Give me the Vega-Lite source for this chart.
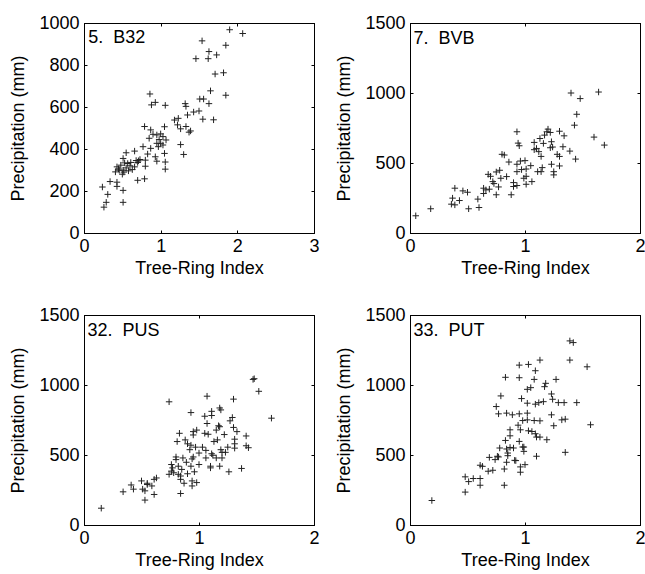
{
"$schema": "https://vega.github.io/schema/vega-lite/v6.json",
"padding": {"left": 9, "top": 13, "right": 2, "bottom": 0},
"background": "white",
"config": {
 "view": {"stroke": "#000", "strokeWidth": 1},
 "axis": {"labelFont": "Liberation Sans", "titleFont": "Liberation Sans", "labelFontSize": 18, "titleFontSize": 18, "titleFontWeight": "normal", "labelColor": "#000", "titleColor": "#000", "domainColor": "#000", "tickColor": "#000", "grid": false, "tickSize": -3, "labelFlush": false, "labelOverlap": false, "labelBound": false, "format": "d"},
 "axisX": {"labelPadding": 7, "titlePadding": 4},
 "axisY": {"labelPadding": 8, "titlePadding": 11}
},
"datasets": {
 "b32": [
  {"x":0.26,"y":123},{"x":0.29,"y":146},{"x":0.51,"y":146},{"x":0.31,"y":184},{"x":0.24,"y":219},{"x":0.43,"y":222},{"x":0.51,"y":203},{"x":0.34,"y":245},{"x":0.43,"y":242},{"x":0.70,"y":251},{"x":0.79,"y":258},{"x":0.41,"y":291},{"x":0.50,"y":280},{"x":0.46,"y":299},{"x":0.51,"y":299},{"x":0.58,"y":296},{"x":0.63,"y":302},{"x":0.43,"y":315},{"x":0.48,"y":323},{"x":0.53,"y":334},{"x":0.57,"y":331},{"x":0.51,"y":355},{"x":0.61,"y":336},{"x":0.66,"y":315},{"x":0.70,"y":336},{"x":0.71,"y":344},{"x":0.73,"y":350},{"x":0.80,"y":347},{"x":0.80,"y":318},{"x":0.55,"y":382},{"x":0.66,"y":390},{"x":0.77,"y":411},{"x":0.83,"y":376},{"x":0.87,"y":403},{"x":0.93,"y":363},{"x":0.95,"y":342},{"x":0.97,"y":411},{"x":0.95,"y":427},{"x":1.00,"y":427},{"x":1.03,"y":419},{"x":1.05,"y":379},{"x":1.06,"y":338},{"x":1.06,"y":304},{"x":0.85,"y":451},{"x":0.95,"y":467},{"x":1.00,"y":472},{"x":1.03,"y":459},{"x":1.07,"y":443},{"x":0.79,"y":507},{"x":0.87,"y":491},{"x":1.05,"y":506},{"x":1.26,"y":421},{"x":1.30,"y":374},{"x":0.86,"y":662},{"x":0.88,"y":610},{"x":0.93,"y":622},{"x":1.06,"y":608},{"x":1.18,"y":538},{"x":1.23,"y":546},{"x":1.22,"y":515},{"x":1.26,"y":496},{"x":1.33,"y":507},{"x":1.37,"y":480},{"x":1.39,"y":486},{"x":1.32,"y":616},{"x":1.33,"y":603},{"x":1.35,"y":562},{"x":1.43,"y":576},{"x":1.50,"y":581},{"x":1.55,"y":542},{"x":1.69,"y":539},{"x":1.51,"y":638},{"x":1.56,"y":638},{"x":1.63,"y":616},{"x":1.65,"y":677},{"x":1.85,"y":656},{"x":1.71,"y":757},{"x":1.82,"y":763},{"x":1.46,"y":830},{"x":1.62,"y":830},{"x":1.63,"y":864},{"x":1.73,"y":848},{"x":1.54,"y":915},{"x":1.85,"y":894},{"x":1.90,"y":968},{"x":2.07,"y":950},{"x":0.45,"y":305},{"x":0.55,"y":310},{"x":0.60,"y":320},{"x":0.68,"y":345},{"x":0.90,"y":470},{"x":0.98,"y":445},{"x":0.52,"y":290}
 ],
 "bvb": [
  {"x":0.05,"y":123},{"x":0.18,"y":173},{"x":0.39,"y":320},{"x":0.37,"y":249},{"x":0.36,"y":206},{"x":0.39,"y":201},{"x":0.43,"y":232},{"x":0.46,"y":301},{"x":0.50,"y":291},{"x":0.51,"y":173},{"x":0.59,"y":242},{"x":0.60,"y":182},{"x":0.64,"y":320},{"x":0.66,"y":308},{"x":0.69,"y":313},{"x":0.64,"y":282},{"x":0.68,"y":419},{"x":0.70,"y":405},{"x":0.72,"y":367},{"x":0.73,"y":353},{"x":0.75,"y":436},{"x":0.78,"y":448},{"x":0.77,"y":329},{"x":0.75,"y":273},{"x":0.80,"y":562},{"x":0.82,"y":557},{"x":0.79,"y":391},{"x":0.84,"y":403},{"x":0.86,"y":507},{"x":0.88,"y":273},{"x":0.90,"y":360},{"x":0.90,"y":332},{"x":0.93,"y":339},{"x":0.93,"y":723},{"x":0.94,"y":642},{"x":0.95,"y":623},{"x":0.93,"y":491},{"x":0.93,"y":438},{"x":0.96,"y":514},{"x":0.97,"y":453},{"x":0.99,"y":391},{"x":1.00,"y":517},{"x":1.01,"y":457},{"x":1.01,"y":405},{"x":1.01,"y":348},{"x":1.05,"y":481},{"x":1.06,"y":367},{"x":1.08,"y":647},{"x":1.10,"y":604},{"x":1.08,"y":595},{"x":1.12,"y":581},{"x":1.13,"y":675},{"x":1.14,"y":547},{"x":1.16,"y":640},{"x":1.15,"y":467},{"x":1.11,"y":438},{"x":1.14,"y":438},{"x":1.17,"y":699},{"x":1.19,"y":723},{"x":1.20,"y":742},{"x":1.22,"y":718},{"x":1.23,"y":652},{"x":1.24,"y":614},{"x":1.22,"y":609},{"x":1.23,"y":491},{"x":1.25,"y":438},{"x":1.25,"y":415},{"x":1.30,"y":727},{"x":1.28,"y":562},{"x":1.30,"y":547},{"x":1.30,"y":479},{"x":1.33,"y":616},{"x":1.34,"y":694},{"x":1.39,"y":585},{"x":1.44,"y":528},{"x":1.43,"y":770},{"x":1.45,"y":848},{"x":1.40,"y":1000},{"x":1.48,"y":960},{"x":1.64,"y":1007},{"x":1.60,"y":685},{"x":1.69,"y":628}
 ],
 "pus": [
  {"x":0.15,"y":120},{"x":0.34,"y":237},{"x":0.41,"y":286},{"x":0.43,"y":256},{"x":0.50,"y":315},{"x":0.51,"y":256},{"x":0.53,"y":178},{"x":0.53,"y":244},{"x":0.55,"y":298},{"x":0.55,"y":289},{"x":0.59,"y":279},{"x":0.61,"y":326},{"x":0.63,"y":336},{"x":0.61,"y":218},{"x":0.74,"y":880},{"x":0.74,"y":362},{"x":0.76,"y":385},{"x":0.76,"y":432},{"x":0.77,"y":408},{"x":0.78,"y":373},{"x":0.80,"y":486},{"x":0.80,"y":467},{"x":0.81,"y":596},{"x":0.83,"y":655},{"x":0.82,"y":420},{"x":0.82,"y":362},{"x":0.84,"y":350},{"x":0.84,"y":326},{"x":0.84,"y":225},{"x":0.85,"y":397},{"x":0.86,"y":479},{"x":0.87,"y":298},{"x":0.88,"y":608},{"x":0.89,"y":448},{"x":0.90,"y":580},{"x":0.90,"y":366},{"x":0.92,"y":538},{"x":0.93,"y":803},{"x":0.93,"y":570},{"x":0.93,"y":420},{"x":0.94,"y":472},{"x":0.95,"y":667},{"x":0.95,"y":643},{"x":0.95,"y":486},{"x":0.94,"y":315},{"x":0.94,"y":279},{"x":0.96,"y":380},{"x":0.97,"y":556},{"x":0.98,"y":678},{"x":0.98,"y":303},{"x":1.00,"y":514},{"x":1.00,"y":432},{"x":1.03,"y":556},{"x":1.05,"y":655},{"x":1.05,"y":777},{"x":1.07,"y":920},{"x":1.07,"y":725},{"x":1.08,"y":648},{"x":1.06,"y":533},{"x":1.06,"y":479},{"x":1.10,"y":420},{"x":1.10,"y":408},{"x":1.11,"y":812},{"x":1.11,"y":782},{"x":1.11,"y":509},{"x":1.12,"y":498},{"x":1.13,"y":596},{"x":1.15,"y":678},{"x":1.15,"y":479},{"x":1.16,"y":608},{"x":1.17,"y":709},{"x":1.18,"y":836},{"x":1.18,"y":702},{"x":1.19,"y":822},{"x":1.20,"y":519},{"x":1.20,"y":479},{"x":1.18,"y":420},{"x":1.19,"y":538},{"x":1.22,"y":646},{"x":1.23,"y":519},{"x":1.25,"y":556},{"x":1.26,"y":380},{"x":1.27,"y":744},{"x":1.29,"y":768},{"x":1.30,"y":899},{"x":1.30,"y":697},{"x":1.31,"y":613},{"x":1.31,"y":580},{"x":1.31,"y":549},{"x":1.33,"y":667},{"x":1.37,"y":404},{"x":1.41,"y":636},{"x":1.41,"y":566},{"x":1.43,"y":552},{"x":1.47,"y":1040},{"x":1.48,"y":1045},{"x":1.52,"y":955},{"x":1.63,"y":763}
 ],
 "put": [
  {"x":0.19,"y":175},{"x":0.48,"y":235},{"x":0.48,"y":344},{"x":0.51,"y":310},{"x":0.55,"y":332},{"x":0.61,"y":332},{"x":0.61,"y":284},{"x":0.61,"y":427},{"x":0.63,"y":419},{"x":0.68,"y":384},{"x":0.72,"y":391},{"x":0.69,"y":483},{"x":0.74,"y":467},{"x":0.76,"y":491},{"x":0.77,"y":486},{"x":0.78,"y":550},{"x":0.75,"y":846},{"x":0.77,"y":794},{"x":0.79,"y":922},{"x":0.82,"y":284},{"x":0.82,"y":400},{"x":0.83,"y":1055},{"x":0.84,"y":799},{"x":0.83,"y":604},{"x":0.84,"y":543},{"x":0.85,"y":514},{"x":0.85,"y":495},{"x":0.84,"y":448},{"x":0.87,"y":680},{"x":0.87,"y":637},{"x":0.87,"y":554},{"x":0.89,"y":787},{"x":0.90,"y":550},{"x":0.91,"y":462},{"x":0.92,"y":460},{"x":0.94,"y":713},{"x":0.95,"y":794},{"x":0.95,"y":597},{"x":0.95,"y":1052},{"x":0.95,"y":1142},{"x":0.96,"y":680},{"x":0.97,"y":903},{"x":0.98,"y":557},{"x":0.98,"y":746},{"x":0.99,"y":557},{"x":0.99,"y":526},{"x":1.00,"y":431},{"x":0.96,"y":377},{"x":0.96,"y":415},{"x":1.02,"y":799},{"x":1.02,"y":751},{"x":1.03,"y":1147},{"x":1.02,"y":870},{"x":1.02,"y":969},{"x":1.03,"y":673},{"x":1.05,"y":981},{"x":1.08,"y":1040},{"x":1.09,"y":1102},{"x":1.09,"y":863},{"x":1.09,"y":652},{"x":1.12,"y":874},{"x":1.10,"y":491},{"x":1.13,"y":744},{"x":1.13,"y":1178},{"x":1.08,"y":746},{"x":1.06,"y":668},{"x":1.10,"y":628},{"x":1.13,"y":628},{"x":1.16,"y":881},{"x":1.17,"y":988},{"x":1.18,"y":1012},{"x":1.19,"y":609},{"x":1.23,"y":936},{"x":1.24,"y":898},{"x":1.25,"y":709},{"x":1.27,"y":1040},{"x":1.29,"y":874},{"x":1.32,"y":751},{"x":1.34,"y":874},{"x":1.35,"y":519},{"x":1.35,"y":756},{"x":1.39,"y":1315},{"x":1.42,"y":1303},{"x":1.39,"y":1178},{"x":1.45,"y":874},{"x":1.54,"y":1130},{"x":1.57,"y":716},{"x":1.23,"y":787}
 ]
},
"columns": 2,
"spacing": {"row": 82, "column": 96},
"bounds": "flush",
"concat": [
 {
  "width": 230, "height": 210,
  "data": {"name": "b32"},
  "layer": [
   {"mark": {"type": "point", "shape": "M-1,0H1M0,-1V1", "filled": false, "stroke": "#222", "strokeWidth": 1, "size": 42, "opacity": 1},
    "encoding": {
     "x": {"field": "x", "type": "quantitative", "scale": {"domain": [0, 3], "nice": false}, "axis": {"orient": "bottom", "values": [0, 1, 2, 3], "title": "Tree-Ring Index"}},
     "y": {"field": "y", "type": "quantitative", "scale": {"domain": [0, 1000], "nice": false}, "axis": {"orient": "left", "values": [0, 200, 400, 600, 800, 1000], "title": "Precipitation (mm)"}}}},
   {"mark": {"type": "point", "opacity": 0},
    "encoding": {
     "x": {"field": "x", "type": "quantitative", "axis": {"orient": "top", "values": [0, 1, 2, 3], "labels": false, "title": null}},
     "y": {"field": "y", "type": "quantitative", "axis": {"orient": "right", "values": [0, 200, 400, 600, 800, 1000], "labels": false, "title": null}}}},
   {"data": {"values": [{"name": "5.\u00a0\u00a0B32"}]},
    "mark": {"type": "text", "align": "left", "baseline": "alphabetic", "font": "Liberation Sans", "fontSize": 18, "color": "#000"},
    "encoding": {"x": {"datum": 0.055, "type": "quantitative", "axis": null}, "y": {"datum": 903, "type": "quantitative", "axis": null}, "text": {"field": "name"}}}
  ],
  "resolve": {"axis": {"x": "independent", "y": "independent"}}
 },
 {
  "width": 230, "height": 210,
  "data": {"name": "bvb"},
  "layer": [
   {"mark": {"type": "point", "shape": "M-1,0H1M0,-1V1", "filled": false, "stroke": "#222", "strokeWidth": 1, "size": 42, "opacity": 1},
    "encoding": {
     "x": {"field": "x", "type": "quantitative", "scale": {"domain": [0, 2], "nice": false}, "axis": {"orient": "bottom", "values": [0, 1, 2], "title": "Tree-Ring Index"}},
     "y": {"field": "y", "type": "quantitative", "scale": {"domain": [0, 1500], "nice": false}, "axis": {"orient": "left", "values": [0, 500, 1000, 1500], "title": "Precipitation (mm)"}}}},
   {"mark": {"type": "point", "opacity": 0},
    "encoding": {
     "x": {"field": "x", "type": "quantitative", "axis": {"orient": "top", "values": [0, 1, 2], "labels": false, "title": null}},
     "y": {"field": "y", "type": "quantitative", "axis": {"orient": "right", "values": [0, 500, 1000, 1500], "labels": false, "title": null}}}},
   {"data": {"values": [{"name": "7.\u00a0\u00a0BVB"}]},
    "mark": {"type": "text", "align": "left", "baseline": "alphabetic", "font": "Liberation Sans", "fontSize": 18, "color": "#000"},
    "encoding": {"x": {"datum": 0.03, "type": "quantitative", "axis": null}, "y": {"datum": 1352, "type": "quantitative", "axis": null}, "text": {"field": "name"}}}
  ],
  "resolve": {"axis": {"x": "independent", "y": "independent"}}
 },
 {
  "width": 230, "height": 210,
  "data": {"name": "pus"},
  "layer": [
   {"mark": {"type": "point", "shape": "M-1,0H1M0,-1V1", "filled": false, "stroke": "#222", "strokeWidth": 1, "size": 42, "opacity": 1},
    "encoding": {
     "x": {"field": "x", "type": "quantitative", "scale": {"domain": [0, 2], "nice": false}, "axis": {"orient": "bottom", "values": [0, 1, 2], "title": "Tree-Ring Index"}},
     "y": {"field": "y", "type": "quantitative", "scale": {"domain": [0, 1500], "nice": false}, "axis": {"orient": "left", "values": [0, 500, 1000, 1500], "title": "Precipitation (mm)"}}}},
   {"mark": {"type": "point", "opacity": 0},
    "encoding": {
     "x": {"field": "x", "type": "quantitative", "axis": {"orient": "top", "values": [0, 1, 2], "labels": false, "title": null}},
     "y": {"field": "y", "type": "quantitative", "axis": {"orient": "right", "values": [0, 500, 1000, 1500], "labels": false, "title": null}}}},
   {"data": {"values": [{"name": "32.\u00a0\u00a0PUS"}]},
    "mark": {"type": "text", "align": "left", "baseline": "alphabetic", "font": "Liberation Sans", "fontSize": 18, "color": "#000"},
    "encoding": {"x": {"datum": 0.03, "type": "quantitative", "axis": null}, "y": {"datum": 1351, "type": "quantitative", "axis": null}, "text": {"field": "name"}}}
  ],
  "resolve": {"axis": {"x": "independent", "y": "independent"}}
 },
 {
  "width": 230, "height": 210,
  "data": {"name": "put"},
  "layer": [
   {"mark": {"type": "point", "shape": "M-1,0H1M0,-1V1", "filled": false, "stroke": "#222", "strokeWidth": 1, "size": 42, "opacity": 1},
    "encoding": {
     "x": {"field": "x", "type": "quantitative", "scale": {"domain": [0, 2], "nice": false}, "axis": {"orient": "bottom", "values": [0, 1, 2], "title": "Tree-Ring Index"}},
     "y": {"field": "y", "type": "quantitative", "scale": {"domain": [0, 1500], "nice": false}, "axis": {"orient": "left", "values": [0, 500, 1000, 1500], "title": "Precipitation (mm)"}}}},
   {"mark": {"type": "point", "opacity": 0},
    "encoding": {
     "x": {"field": "x", "type": "quantitative", "axis": {"orient": "top", "values": [0, 1, 2], "labels": false, "title": null}},
     "y": {"field": "y", "type": "quantitative", "axis": {"orient": "right", "values": [0, 500, 1000, 1500], "labels": false, "title": null}}}},
   {"data": {"values": [{"name": "33.\u00a0\u00a0PUT"}]},
    "mark": {"type": "text", "align": "left", "baseline": "alphabetic", "font": "Liberation Sans", "fontSize": 18, "color": "#000"},
    "encoding": {"x": {"datum": 0.03, "type": "quantitative", "axis": null}, "y": {"datum": 1352, "type": "quantitative", "axis": null}, "text": {"field": "name"}}}
  ],
  "resolve": {"axis": {"x": "independent", "y": "independent"}}
 }
]
}
